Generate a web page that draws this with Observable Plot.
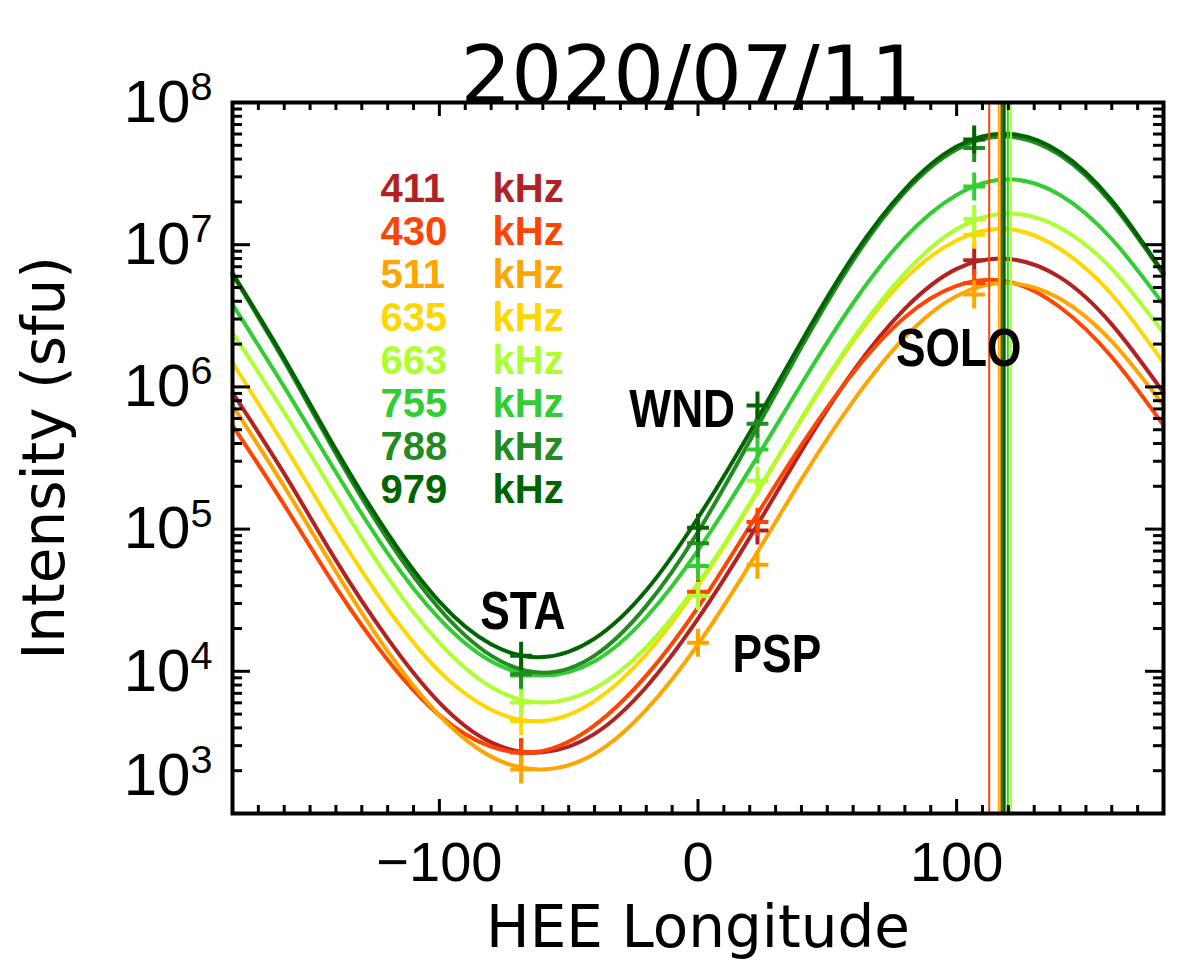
<!DOCTYPE html>
<html>
<head>
<meta charset="utf-8">
<script src="https://cdn.jsdelivr.net/npm/d3@7"></script>
<script src="https://cdn.jsdelivr.net/npm/@observablehq/plot@0.6"></script>
<style>
  body { margin: 0; background: white; }
</style>
</head>
<body>
<div id="chart"></div>
<script>
const lonGrid = [-180, -160, -140, -120, -100, -80, -60, -40, -20, 0, 20, 40, 60, 80, 100, 120, 140, 160, 180];

const freqs = ["411", "430", "511", "635", "663", "755", "788", "979"];
const colors = ["firebrick", "orangered", "orange", "gold", "greenyellow", "limegreen", "forestgreen", "darkgreen"];

// log10 of intensity (sfu) along lonGrid, one array per frequency
const logI411 = [5.96, 5.39, 4.78, 4.23, 3.78, 3.50, 3.43, 3.56, 3.89, 4.37, 4.94, 5.55, 6.11, 6.55, 6.83, 6.90, 6.77, 6.44, 5.96];
const logI430 = [5.73, 5.17, 4.59, 4.08, 3.69, 3.47, 3.44, 3.62, 3.97, 4.45, 5.02, 5.59, 6.10, 6.49, 6.71, 6.74, 6.56, 6.21, 5.73];
const logI511 = [5.87, 5.30, 4.70, 4.14, 3.69, 3.40, 3.31, 3.42, 3.73, 4.19, 4.75, 5.35, 5.90, 6.35, 6.64, 6.73, 6.62, 6.32, 5.87];
const logI635 = [6.17, 5.59, 4.99, 4.44, 4.00, 3.73, 3.65, 3.79, 4.12, 4.60, 5.17, 5.77, 6.32, 6.76, 7.03, 7.11, 6.97, 6.65, 6.17];
const logI663 = [6.38, 5.82, 5.23, 4.66, 4.20, 3.89, 3.78, 3.88, 4.17, 4.62, 5.18, 5.78, 6.34, 6.80, 7.11, 7.22, 7.12, 6.83, 6.38];
const logI755 = [6.58, 6.00, 5.40, 4.83, 4.37, 4.07, 3.97, 4.07, 4.38, 4.85, 5.42, 6.02, 6.59, 7.05, 7.35, 7.46, 7.35, 7.04, 6.58];
const logI788 = [6.79, 6.18, 5.53, 4.93, 4.44, 4.11, 3.99, 4.11, 4.46, 4.98, 5.62, 6.28, 6.89, 7.37, 7.67, 7.76, 7.63, 7.29, 6.79];
const logI979 = [6.80, 6.20, 5.56, 4.97, 4.49, 4.19, 4.10, 4.23, 4.57, 5.08, 5.68, 6.32, 6.92, 7.39, 7.69, 7.78, 7.65, 7.31, 6.80];
const curves = [logI411, logI430, logI511, logI635, logI663, logI755, logI788, logI979];

// spacecraft longitudes and the measured points (log10 sfu), null = none
const scNames = ["STA", "WND", "PSP", "SOLO"];
const scLon = [-68.4, 0, 23, 106.8];
const obs411 = [3.43, null, 4.99, 6.89];
const obs430 = [3.43, 4.56, 5.05, 6.73];
const obs511 = [3.31, 4.20, 4.75, 6.65];
const obs635 = [3.65, null, null, 7.07];
const obs663 = [3.78, 4.53, 5.34, 7.18];
const obs755 = [3.97, 4.74, 5.56, 7.41];
const obs788 = [3.98, 4.90, 5.74, 7.68];
const obs979 = [4.11, 5.01, 5.87, 7.74];
const obsAll = [obs411, obs430, obs511, obs635, obs663, obs755, obs788, obs979];

// where the spacecraft names sit
const labelLon = [-67.7, -6.1, 30.5, 100.8];
const labelLogI = [4.42, 5.84, 4.12, 6.27];

// fitted source longitudes (vertical lines)
const peakLon = [112.6, 116.3, 116.8, 117.4, 118.0, 118.4, 119.8, 121.0];
const peakColor = ["orangered", "orange", "gold", "firebrick", "forestgreen", "darkgreen", "limegreen", "greenyellow"];

// axis ticks
const xMajor = [-100, 0, 100];
const xMinor = d3.range(-170, 180, 10).filter(d => d % 100 !== 0);
const yMajor = [1e3, 1e4, 1e5, 1e6, 1e7, 1e8];
const yMinor = d3.range(3, 8).flatMap(e => d3.range(2, 10).map(m => m * 10 ** e));

const lines = freqs.flatMap((f, i) => lonGrid.map((lon, j) => ({freq: f, lon: lon, I: 10 ** curves[i][j]})));
const crosses = freqs.flatMap((f, i) => scLon.map((lon, j) => ({freq: f, lon: lon, v: obsAll[i][j]})))
  .filter(d => d.v != null)
  .map(d => ({freq: d.freq, lon: d.lon, I: 10 ** d.v}));

// IDL-style "+" : a bit taller than wide
const tallPlus = {
  draw(context, size) {
    const r = Math.sqrt(size / Math.PI);
    context.moveTo(-0.78 * r, 0);
    context.lineTo(0.78 * r, 0);
    context.moveTo(0, -r);
    context.lineTo(0, r);
  }
};

const W = 1200, H = 976;
const mL = 232, mR = 37, mT = 102, mB = 163;
const fw = W - mL - mR, fh = H - mT - mB;

const legend = freqs.flatMap((f, i) => [
  Plot.text([f], {frameAnchor: "top-left", dx: 148, dy: 71 + 43 * i, textAnchor: "start",
    fill: colors[i], fontSize: 40, fontWeight: "bold", fontFamily: "Liberation Sans"}),
  Plot.text(["kHz"], {frameAnchor: "top-left", dx: 260, dy: 71 + 43 * i, textAnchor: "start",
    fill: colors[i], fontSize: 40, fontWeight: "bold", fontFamily: "Liberation Sans"})
]);

let chart = Plot.plot({
  width: W,
  height: H,
  marginLeft: mL,
  marginRight: mR,
  marginTop: mT,
  marginBottom: mB,
  style: {fontFamily: "Liberation Sans", fontSize: "58px", background: "white", color: "black", overflow: "visible"},
  x: {domain: [-180, 180]},
  y: {type: "log", domain: [1e3, 1e8]},
  color: {domain: freqs, range: colors},
  marks: [
    Plot.line(lines, {x: "lon", y: "I", z: "freq", stroke: "freq", strokeWidth: 4, curve: "natural"}),
    Plot.dot(crosses, {x: "lon", y: "I", stroke: "freq", fill: "none", symbol: tallPlus, r: 14, strokeWidth: 4}),
    ...peakLon.map((lon, i) => Plot.ruleX([lon], {stroke: peakColor[i], strokeWidth: peakColor[i] == "darkgreen" ? 3 : 2})),
    ...legend,
    Plot.text(scNames, {x: (d, i) => labelLon[i], y: (d, i) => 10 ** labelLogI[i], fill: "black",
      fontSize: 54, fontWeight: "bold", fontFamily: "Liberation Sans", className: "sc-label"}),
    // inward ticks on all four sides
    Plot.tickX(xMinor, {x: d => d, insetTop: fh - 8, strokeWidth: 3}),
    Plot.tickX(xMajor, {x: d => d, insetTop: fh - 14, strokeWidth: 3}),
    Plot.tickX(xMinor, {x: d => d, insetBottom: fh - 8, strokeWidth: 3}),
    Plot.tickX(xMajor, {x: d => d, insetBottom: fh - 14, strokeWidth: 3}),
    Plot.tickY(yMinor, {y: d => d, insetRight: fw - 10, strokeWidth: 3}),
    Plot.tickY(yMajor, {y: d => d, insetRight: fw - 18, strokeWidth: 3}),
    Plot.tickY(yMinor, {y: d => d, insetLeft: fw - 10, strokeWidth: 3}),
    Plot.tickY(yMajor, {y: d => d, insetLeft: fw - 18, strokeWidth: 3}),
    Plot.axisX(xMajor, {anchor: "bottom", tickSize: 0, tickPadding: 28, label: null, fontSize: 56,
      tickFormat: d => d < 0 ? "\u2212" + (-d) : String(d)}),
    Plot.axisY(yMajor, {anchor: "left", tickSize: 0, tickPadding: 20, label: null, fontSize: 60,
      tickFormat: d => "10^" + Math.round(Math.log10(d))}),
    Plot.text(["2020/07/11"], {frameAnchor: "top", dx: -7, dy: -56, textAnchor: "middle", fontSize: 80, fontFamily: "DejaVu Sans"}),
    Plot.text(["Intensity (sfu)"], {frameAnchor: "left", dx: -187, rotate: -90, textAnchor: "middle", fontSize: 58, fontFamily: "DejaVu Sans"}),
    Plot.text(["HEE Longitude"], {frameAnchor: "bottom", dy: 133, textAnchor: "middle", fontSize: 58, fontFamily: "DejaVu Sans"}),
    Plot.frame({stroke: "black", strokeWidth: 4})
  ]
})

// exponent as a raised tspan: 10^8 -> 10 with superscript 8
d3.select(chart).selectAll('g[aria-label="y-axis tick label"] text').each(function () {
  const t = d3.select(this);
  const parts = t.text().split("^");
  if (parts.length < 2) return;
  t.text(parts[0]);
  t.append("tspan").attr("dy", "-0.55em").attr("font-size", "0.66em").text(parts[1]);
  // the lowest label sits lifted off the corner, as in the original
  if (parts[1] === "3") t.attr("y", -19);
});

d3.select('#chart').append(() => chart)

// spacecraft names are set in a narrow bold face in the original
d3.select(chart).selectAll(".sc-label text").each(function () {
  const len = this.getComputedTextLength();
  d3.select(this).attr("textLength", len * 0.82).attr("lengthAdjust", "spacingAndGlyphs");
});
</script>
</body>
</html>
